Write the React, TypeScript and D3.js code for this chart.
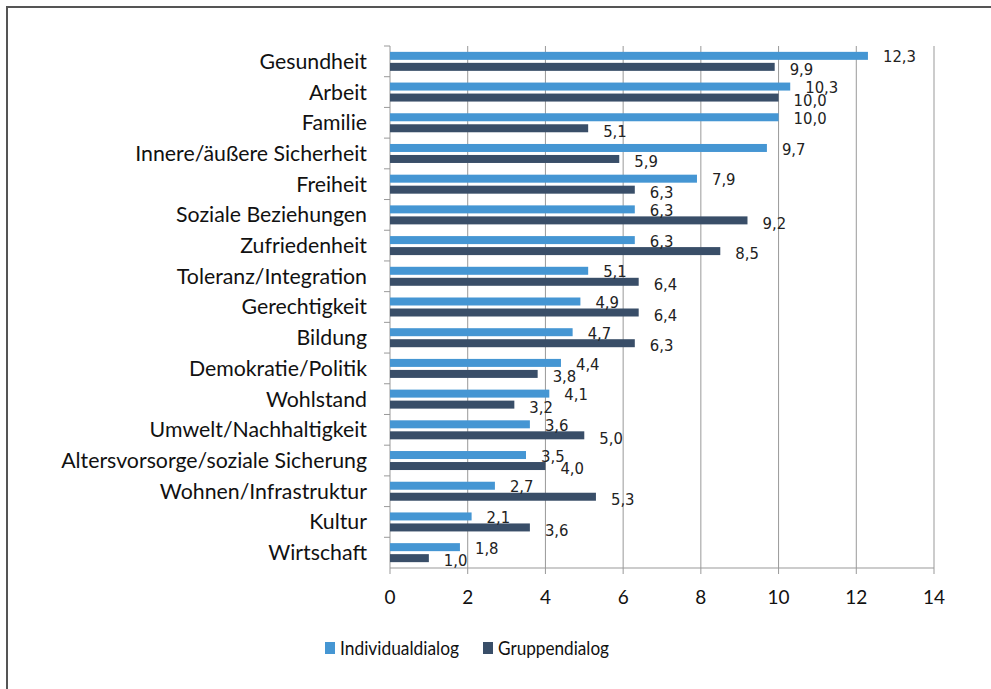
import React from 'react';
import * as d3 from 'd3';

const categories = [
  'Gesundheit', 'Arbeit', 'Familie', 'Innere/äußere Sicherheit', 'Freiheit',
  'Soziale Beziehungen', 'Zufriedenheit', 'Toleranz/Integration', 'Gerechtigkeit',
  'Bildung', 'Demokratie/Politik', 'Wohlstand', 'Umwelt/Nachhaltigkeit',
  'Altersvorsorge/soziale Sicherung', 'Wohnen/Infrastruktur', 'Kultur', 'Wirtschaft',
];
const individual = [12.3, 10.3, 10.0, 9.7, 7.9, 6.3, 6.3, 5.1, 4.9, 4.7, 4.4, 4.1, 3.6, 3.5, 2.7, 2.1, 1.8];
const gruppe = [9.9, 10.0, 5.1, 5.9, 6.3, 9.2, 8.5, 6.4, 6.4, 6.3, 3.8, 3.2, 5.0, 4.0, 5.3, 3.6, 1.0];
const xTicks = [0, 2, 4, 6, 8, 10, 12, 14];
const seriesNames = ['Individualdialog', 'Gruppendialog'];
const colors = ['#4596d3', '#394e68'];

const W = 991, H = 689;
const margin = { top: 46, left: 390, right: 57, bottom: 121 };

export default function App() {
  const x = d3.scaleLinear().domain([0, 14]).range([margin.left, W - margin.right]);
  const y = d3.scaleBand().domain(categories).range([margin.top, H - margin.bottom]);
  const barH = 8;
  const gap = 3;
  const fmt = (v: number) => v.toFixed(1).replace('.', ',');
  const labelFont = 'Lato, "Open Sans", sans-serif';
  const valFont = '"Liberation Sans Narrow", "DejaVu Sans Condensed", sans-serif';
  const bottom = H - margin.bottom;

  return (
    <svg width={W} height={H} style={{ position: 'absolute', left: 0, top: 0, background: '#fff' }}>
      <rect x={7} y={7} width={1000} height={700} fill="none" stroke="#555" strokeWidth={2} />
      {/* gridlines */}
      {xTicks.slice(1).map(t => (
        <line key={t} x1={x(t)} x2={x(t)} y1={margin.top} y2={bottom} stroke="#999" strokeWidth={1} />
      ))}
      {/* axes */}
      <line x1={x(0)} x2={x(0)} y1={margin.top} y2={bottom} stroke="#999" />
      <line x1={x(0)} x2={x(14)} y1={bottom} y2={bottom} stroke="#999" />
      {xTicks.map(t => (
        <g key={t}>
          <line x1={x(t)} x2={x(t)} y1={bottom} y2={bottom + 6} stroke="#999" />
          <text x={x(t)} y={bottom + 36} textAnchor="middle" fontFamily={labelFont} fontSize={19} fill="#111">{t}</text>
        </g>
      ))}
      {categories.map((c, i) => {
        const y0 = y(c)!;
        const mid = y0 + y.bandwidth() / 2;
        return (
          <g key={c}>
            <line x1={x(0) - 6} x2={x(0)} y1={y0} y2={y0} stroke="#999" />
            <text x={367} y={mid} dy="0.35em" textAnchor="end" fontFamily={labelFont} fontSize={21.3} fill="#111">{c}</text>
            <rect x={x(0)} y={mid - gap / 2 - barH} width={x(individual[i]) - x(0)} height={barH} fill={colors[0]} />
            <rect x={x(0)} y={mid + gap / 2} width={x(gruppe[i]) - x(0)} height={barH} fill={colors[1]} />
            <text x={x(individual[i]) + 15} y={mid - gap / 2 - barH / 2} dy="0.4em" fontFamily={valFont} fontSize={16.5} fill="#222">{fmt(individual[i])}</text>
            <text x={x(gruppe[i]) + 15} y={mid + gap / 2 + barH / 2} dy="0.5em" fontFamily={valFont} fontSize={16.5} fill="#222">{fmt(gruppe[i])}</text>
          </g>
        );
      })}
      {/* legend */}
      {seriesNames.map((s, i) => {
        const lx = i === 0 ? 325 : 483;
        return (
          <g key={s}>
            <rect x={lx} y={642} width={10} height={12} fill={colors[i]} />
            <text x={lx + 15} y={648} dy="0.36em" fontFamily={labelFont} fontSize={19.5}
              textLength={i === 0 ? 119 : 111} lengthAdjust="spacingAndGlyphs" fill="#111">{s}</text>
          </g>
        );
      })}
    </svg>
  );
}
